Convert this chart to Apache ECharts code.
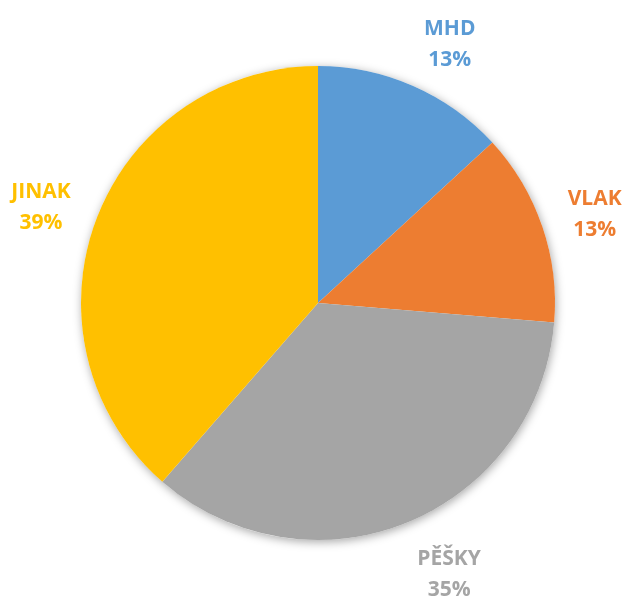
<!DOCTYPE html>
<html>
<head>
<meta charset="utf-8">
<script src="https://cdn.jsdelivr.net/npm/echarts@6/dist/echarts.min.js"></script>
<style>
  html, body { margin: 0; padding: 0; background: #fff; }
  #chart { width: 627px; height: 598px; }
</style>
</head>
<body>
<div id="chart"></div>
<script>
// data (counts giving 13/13/35/39 %)
var categories = ['MHD', 'VLAK', 'PĚŠKY', 'JINAK'];
var values = [15, 15, 40, 44];
var colors = ['#5B9BD5', '#ED7D31', '#A5A5A5', '#FFC000'];

var pieData = [];
for (var i = 0; i < categories.length; i++) {
  pieData.push({
    name: categories[i],
    value: values[i],
    itemStyle: { color: colors[i] },
    label: { color: colors[i] }
  });
}

var chart = echarts.init(document.getElementById('chart'), null, { renderer: 'canvas' });

var GAP = 27;

var option = {
  animation: false,
  series: [
    {
      // soft shadow behind the pie
      type: 'pie',
      silent: true,
      center: [318, 303],
      radius: 237,
      z: 1,
      label: { show: false },
      labelLine: { show: false },
      data: [{ value: 1, itemStyle: { color: '#fff', shadowBlur: 10, shadowColor: 'rgba(0,0,0,0.35)', shadowOffsetX: 1, shadowOffsetY: 2 } }]
    },
    {
      type: 'pie',
      center: [318, 303],
      radius: 237,
      startAngle: 90,
      clockwise: true,
      percentPrecision: 0,
      avoidLabelOverlap: false,
      z: 2,
      itemStyle: { borderWidth: 0 },
      label: {
        show: true,
        position: 'outside',
        formatter: '{b}\n{d}%',
        fontFamily: 'Open Sans',
        fontWeight: 'bold',
        fontSize: 21,
        lineHeight: 31,
        overflow: 'none'
      },
      labelLine: {
        show: true,
        length: GAP,
        length2: 0,
        lineStyle: { opacity: 0 }
      },
      // Excel-like "outside end": box pushed to the side of the slice
      labelLayout: function (params) {
        var p = params.labelLinePoints;
        if (!p) return {};
        var dx = (p[1][0] - p[0][0]) / GAP;
        var dy = (p[1][1] - p[0][1]) / GAP;
        var w = params.labelRect.width;
        var h = params.labelRect.height;
        return {
          x: p[1][0] + (dx < 0 ? -1 : 1) * w / 2,
          y: p[1][1] + dy * h * 0.375 + 5,
          align: 'center',
          verticalAlign: 'middle'
        };
      },
      data: pieData
    }
  ]
};

chart.setOption(option);
</script>
</body>
</html>
